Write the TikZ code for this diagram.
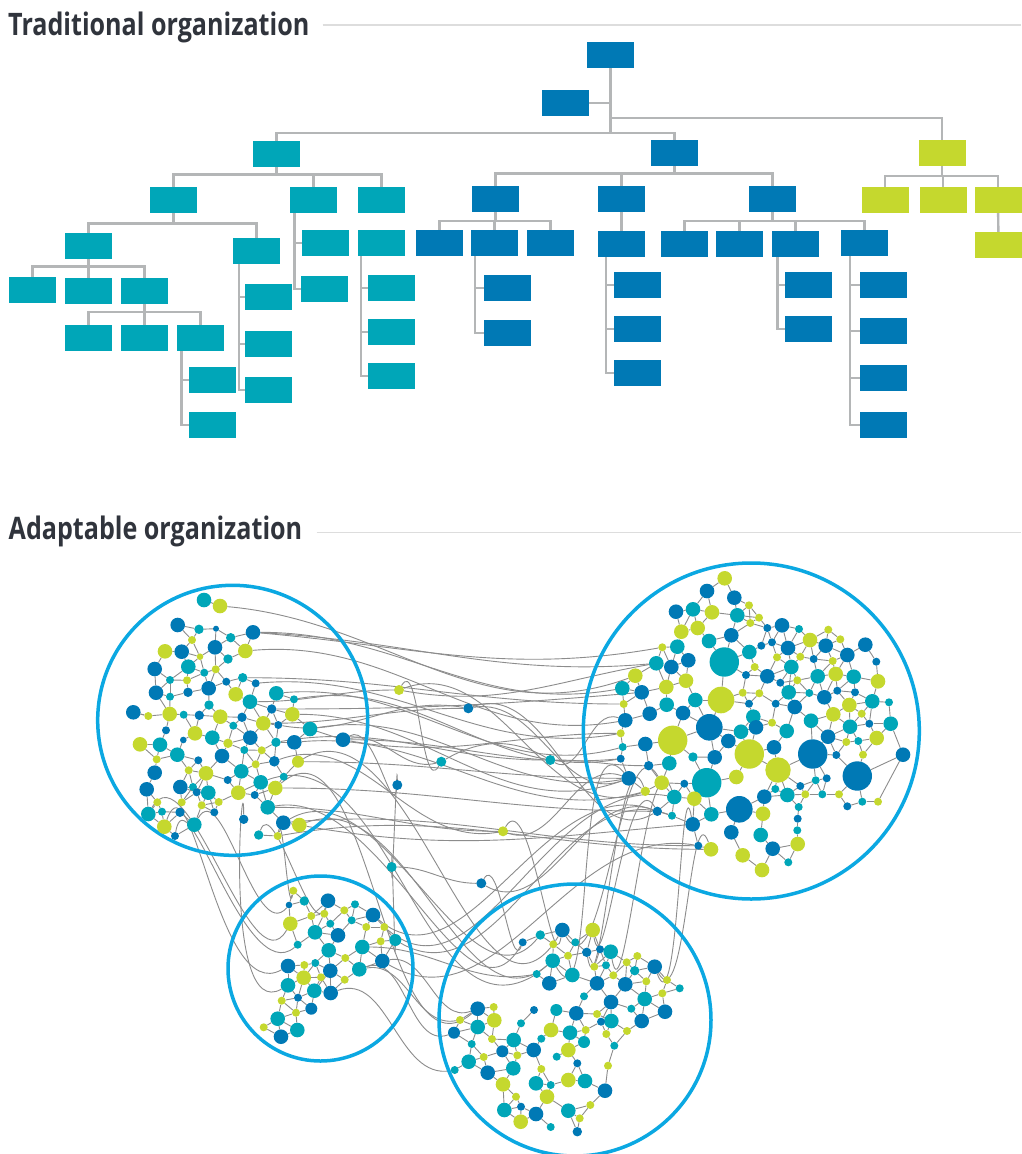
\documentclass[tikz,border=0pt]{standalone}
\usepackage{fontspec}
\usetikzlibrary{backgrounds}
\newfontfamily\titlefont[FakeStretch=0.81]{Open Sans}
\definecolor{cT}{HTML}{00A6B8}
\definecolor{cB}{HTML}{0079B5}
\definecolor{cG}{HTML}{C5D82E}
\definecolor{ringc}{HTML}{0BA8E2}
\definecolor{linkc}{HTML}{8C8C8C}
\definecolor{connc}{HTML}{B4B6B7}
\definecolor{rulec}{HTML}{DDDDDD}
\definecolor{titlec}{HTML}{30343C}
\tikzset{
  box/.style={rectangle, minimum width=47, minimum height=25.7, inner sep=0pt, draw=none},
  tbox/.style={box, fill=cT},
  bbox/.style={box, fill=cB},
  gbox/.style={box, fill=cG},
  conn/.style={draw=connc, line width=2.4pt},
  rulel/.style={draw=rulec, line width=1.2pt},
  title/.style={font=\titlefont\bfseries\fontsize{31}{36}\selectfont, text=titlec, inner sep=0pt},
  dot/.style={circle, inner sep=0pt, draw=none},
  link/.style={draw=linkc, line width=0.9pt},
  ring/.style={circle, draw=ringc, line width=3.5pt, inner sep=0pt}
}
\newdimen\lkdx \newdimen\lkdy
\def\lkmax{11.5}
\newcommand\linktest[3]{%
  \lkdx=\csname #1x#2\endcsname pt\relax
  \advance\lkdx by -\csname #1x#3\endcsname pt\relax
  \ifdim\lkdx<0pt \lkdx=-\lkdx\fi
  \ifdim\lkdx<40pt
    \lkdy=\csname #1y#2\endcsname pt\relax
    \advance\lkdy by -\csname #1y#3\endcsname pt\relax
    \ifdim\lkdy<0pt \lkdy=-\lkdy\fi
    \ifdim\lkdy<40pt
      \edef\lkra{\csname #1r#2\endcsname}%
      \edef\lkrb{\csname #1r#3\endcsname}%
      \pgfmathsetmacro\lkgap{veclen(\lkdx,\lkdy)-\lkra-\lkrb}%
      \ifdim\lkgap pt<\lkmax pt\relax
        \draw[link] (#1#2) -- (#1#3);%
      \fi
    \fi
  \fi}
\newcommand\alllinks[2]{%
  \foreach \i in {1,...,#2}{%
    \foreach \j in {1,...,#2}{%
      \ifnum\j>\i\relax \linktest{#1}{\i}{\j}\fi
    }}}
\newcommand\mkdots[2]{%
  \foreach \px/\py/\pr/\pk [count=\i] in #2 {%
    \node[dot, fill=c\pk, minimum size=2*\pr] (#1\i) at (\px,\py) {};
    \expandafter\xdef\csname #1x\i\endcsname{\px}%
    \expandafter\xdef\csname #1y\i\endcsname{\py}%
    \expandafter\xdef\csname #1r\i\endcsname{\pr}%
  }}
\def\clA{204/600/7.3/T, 220/606/7.3/G, 177.7/625/7.3/B, 199/629.3/4.7/T, 216/628.7/3/B, 253/632.3/7.3/B, 230.7/637.7/4.7/T, 192/640/4/G, 165/651.3/7.3/G, 181.7/651.7/7.3/B,
215/647.3/7.3/B, 245.3/651/7.3/G, 200/656.7/3.3/G, 228/659/4.7/T, 154.7/669/7.3/B, 188.3/666.7/7.3/T, 215.7/669.3/4/G, 204.3/672.7/4/T, 242.7/677.7/4.7/T, 170/680/4/T,
187/680.3/4/G, 226.3/681.7/4/B, 255.7/683.3/4/B, 156/692.7/7.3/B, 188/692.3/4.7/B, 208.7/688.3/7.3/B, 235.7/694.3/7.3/G, 276.3/693.3/7.3/T, 170/696.7/4/T, 250/701.7/7.3/T,
294/699.3/4/T, 209/705/4.7/T, 271.7/709/4.7/B, 133.3/712.3/7.3/B, 148.3/716/4/G, 169.7/714/7.3/G, 183.7/714.7/4/T, 199.3/715.3/4.7/B, 220.3/716.7/7.3/G, 242/717.3/4.7/B,
263.3/723.3/7.3/G, 292.3/714.3/7.3/G, 233.3/725.7/4/T, 278.3/725/4/B, 310/729/7.3/T, 343/739.7/7.3/B, 166/730.3/4/B, 195/733.3/7.3/G, 212.3/737.7/7.3/T, 250.3/737.7/7.3/B,
140/744.3/7.3/G, 160/744.7/7.3/T, 183.3/740/3.3/B, 228/743.3/4.7/G, 276/742.3/4.7/T, 294.3/742.3/7.3/B, 244.3/750/4/T, 261.7/750.3/4/G, 177.3/754.7/7.3/T, 222/756/7.3/B,
156.7/759.3/4/G, 198.3/760.3/4/B, 274.3/761.3/5.3/B, 298/761.7/6/G, 255.7/764.3/4/G, 154.7/772.7/7.3/B, 188.7/770.3/4/G, 206/773.3/7.3/G, 241.3/771.3/7.3/T, 283.7/776.7/4/T,
227.7/780/4/B, 146.7/789.3/7.3/B, 180.3/787/7.3/B, 193/787/4/T, 260.7/782.3/7.3/T, 275.3/788/7.3/G, 196.7/792.3/4/B, 208.3/792.7/7.3/T, 238.3/792.7/7.3/G, 254.7/795/4/B,
157.3/802.3/4/G, 181.7/802.3/4/G, 201.7/805.3/4/G, 218.7/802/4/G, 148.3/814/7.3/T, 162/811.7/4/T, 180/812.3/4.7/B, 214.3/812.3/4/B, 267.7/807.3/7.3/T, 164.3/826.7/7.3/G,
194.3/824.7/7.3/T, 243.7/819.3/4.7/B, 283.3/822.7/7.3/B, 299.3/825/7.3/G, 175/836/4/B, 258.7/835/4.7/T, 277.7/836/4/G}
\def\clB{724.7/578.3/7.3/G, 707/591/7.3/B, 734.3/597.7/7.3/B, 749/605.3/4/G, 676/611.7/7.3/B, 693/609.3/7.3/T, 712/612.3/7.3/G, 737.3/615.3/7.3/T, 759/617.7/4/G, 750.3/623/4/G,
767.3/628/4/B, 782/625.3/7.3/B, 799/629/4/T, 828.3/629.7/4/G, 681.3/631.7/7.3/G, 697.7/628/7.3/G, 731.3/635.3/7.3/B, 709/641/7.3/T, 810/640/7.3/G, 825.7/645.7/7.3/B,
840.3/639.3/4/G, 865.3/644.7/7.3/B, 662.3/647.3/4/G, 677.3/646.7/7.3/T, 761.3/645.7/4/B, 772/642.3/4/B, 788/648/7.3/B, 749.3/652/7.3/T, 724.3/662/14.7/T, 777/657.3/4/G,
800.3/656.7/4/G, 813.7/659/4/B, 832.7/661/4/G, 847.3/655/7.3/B, 876.3/661.7/4/B, 656.3/663.3/7.3/T, 671.3/667/7.3/B, 688.3/660.3/7.3/B, 754.7/667/4/G, 791.3/667/7.3/T,
635.3/675.7/7.3/G, 686/680.7/7.3/G, 746/675/4/B, 767.3/676.3/7.3/B, 780.3/682.7/4/B, 817.7/676.3/7.3/T, 835.7/674/7.3/G, 853.7/676.7/7.3/T, 797.3/680.3/4/G, 878/681.3/7.3/G,
622.3/688.3/7.3/T, 641.7/692.3/7.3/B, 666.3/687/7.3/G, 721/700/13.3/G, 742.7/692.7/4/G, 759.3/693.3/4/G, 788.7/692.3/7.3/T, 809.3/693/4/T, 824.3/697.3/7.3/B, 837.3/690.7/4/B,
855/692.3/4/B, 872.3/701.3/7.3/T, 623.7/704/4/G, 666.7/704.7/7.3/T, 695.3/700/7.3/T, 749/703.7/4/B, 775.7/703.7/4/B, 794.7/707/7.3/B, 849.3/705/7.3/G, 889/702.3/4/T,
625.3/720.3/7.3/B, 649.7/713.7/7.3/B, 683/713/7.3/B, 709.3/727.3/13.3/B, 753.3/716.7/7.3/T, 756/727.3/7.3/B, 811/720.7/7.3/T, 833.3/714.3/7.3/G, 861.7/713.7/4/G, 869.3/723.7/4/B,
890.7/723.7/7.3/T, 620.7/733.3/4/G, 672.7/740.3/14.7/G, 741/731.7/7.3/T, 772/722.7/4/G, 786.7/731/7.3/T, 828/736.7/7.3/B, 850/726.7/7.3/T, 876.7/738/7.3/G, 622.7/747/4/T,
645.3/744/7.3/B, 728.3/741/7.3/B, 749.3/754/14.7/G, 774/747.3/7.3/B, 812.7/754/14.7/B, 846.3/742/4/G, 858.3/741/4/T, 620.7/758.7/4/B, 648.7/765.7/4.7/B, 669.3/763.3/7.3/T,
693/757/4.7/T, 714.7/757.3/7.3/B, 778/770/12.7/G, 836.3/755/4/B, 863/754.7/4/G, 903/754.7/7.3/B, 628.7/778.3/7.3/B, 661.7/782.7/7.3/G, 684.3/783.7/4/B, 706.7/782.7/14.7/T,
736.3/777/7.3/G, 857.3/776/14.7/B, 826.7/778.3/4/B, 815.7/780.3/4/T, 800.3/786/4/B, 775.3/789/4/T, 787.3/795/7.3/T, 764.3/796.7/7.3/B, 645.3/791.3/4.7/G, 674.3/797/7.3/T,
694.3/798.7/7.3/G, 805.3/794.3/4/G, 822.3/794.3/4/T, 839/794.3/4/G, 847.3/806.3/4/B, 862.3/801.7/4/T, 878/801.7/4/G, 657.3/811.3/4.7/B, 672/815.7/4/T, 711.3/814.3/7.3/T,
739.3/809.3/13.3/B, 763/813.7/7.3/G, 798.7/807/4/T, 797.7/818.7/4/B, 797.3/830.3/4/T, 692.7/824.3/7.3/B, 731.3/832.3/7.3/B, 760.7/835/7.3/T, 797.7/844/7.3/G, 698.3/845.7/4/B,
711/849.3/7.3/G, 772.7/848.7/7.3/B, 742.7/855.3/7.3/G, 788.3/862.3/4/T, 762/870/7.3/G}
\def\clC{293.3/890.7/4/G, 289/905/3.3/B, 304.3/901/4.7/T, 328/900.7/7.3/B, 355/904.3/4/T, 344.3/910.3/4/G, 324.3/913.7/4/G, 311.3/916/4/G, 373/915/7.3/B, 290.3/923.7/7.3/G,
351.7/920.3/4/T, 330.3/923.7/4/T, 366.3/927/4/G, 384.3/927/4/G, 315/932.3/7.3/T, 338/935.3/7.3/B, 395.3/940/6/T, 380.7/941.3/4/G, 297.7/944.7/4/T, 328.7/950.3/7.3/T,
362.3/947/7.3/T, 345.3/958/4/G, 382.3/961/7.3/B, 288/966/7.3/B, 304.3/965/4/G, 315.3/963/4/T, 330.3/970.7/7.3/B, 359.3/969.3/7.3/T, 303.7/977.7/7.3/G, 321/977.3/4/G,
288/985.3/7.3/T, 344.7/979.7/4/G, 314.3/990.7/7.3/T, 330.7/993/7.3/B, 298/997.7/4/B, 281.7/1000.7/4/G, 311.3/1008.7/6/B, 296/1012.7/4/G, 277.7/1018.7/7.3/T, 263.7/1027.3/4/G,
297.3/1030/7.3/T, 281/1036.7/7.3/B}
\def\clD{562.3/930/7.3/B, 592.7/930/7.3/G, 540.3/935/4.7/T, 522.7/942.3/4/B, 553.3/944.3/4/G, 575.3/942.3/4/T, 586.7/952.3/4.7/B, 600/949.3/4/B, 610.7/951.7/7.3/T, 637.3/956/4/G,
568/955.7/4/G, 552.7/960.7/7.3/T, 606/965.3/4/T, 594.3/966.7/4/G, 626.7/962.3/4/G, 654.7/966.7/7.3/B, 634.7/970.7/4.7/T, 536.7/974/4/T, 572.3/975/7.3/T, 613.3/975.3/4/G,
549.3/983.3/7.3/B, 597/983.3/7.3/B, 625.3/984.3/7.3/B, 646.3/981.3/4/G, 667/980/4/G, 679.7/988.3/4/T, 662.3/993.3/4/G, 584/996.3/4/T, 611/1002/7.3/B, 644.7/999/7.3/T,
534/1010/4/B, 556.3/1010/6/T, 576.3/1013.3/7.3/B, 631.3/1008.7/4/T, 665/1011.7/7.3/B, 477.7/1008.7/7.3/B, 493.7/1007/4/G, 597/1014/4/G, 611.3/1021/7.3/T, 641.7/1021/7.3/B,
601/1021.7/4/B, 460/1020/4/G, 494.3/1020.3/7.3/G, 477.7/1027/7.3/T, 521/1023.3/4/T, 551/1030/7.3/G, 570/1032.7/7.3/T, 585.7/1030/4/G, 627/1031/4/G, 606.3/1034/4/G,
454/1032.7/6/B, 492/1039/4/G, 513.7/1040/7.3/T, 541.3/1038.7/4/T, 584/1042/6/T, 614.3/1045.7/4/T, 471.7/1044/4/T, 502.3/1051.3/6/B, 533.7/1050/7.3/B, 568.3/1050/7.3/G,
483.7/1057/4/G, 517.3/1055.3/4/G, 556.7/1056.7/4/T, 577.3/1063.3/4/B, 608/1065.7/4/G, 468.7/1061.7/7.3/T, 454.7/1070/4/T, 487.7/1072.7/7.3/B, 513.3/1068.3/7.3/T, 541.3/1069/4/G,
568.3/1080/7.3/G, 585/1081/7.3/T, 605/1090.7/7.3/B, 503/1084.3/7.3/G, 536/1083.3/7.3/T, 550.7/1085/4/T, 516/1096.7/4/G, 547/1096.7/7.3/G, 590.3/1105/4/G, 504.3/1110/7.3/T,
521/1106.7/4/B, 536/1114/7.3/B, 568.3/1110.7/7.3/T, 579.7/1118.3/4/G, 520.7/1121.7/7.3/G, 550.7/1127/4/T, 577.3/1131.7/4.7/B}
\def\clM{399/690/5/G, 468.3/708.3/5/B, 441.3/761.7/5/T, 550.3/760/5/T, 397.3/785/5/B, 503/831.3/5/G, 391.7/867/5/T, 481.3/883.3/5/B}
\begin{document}
\begin{tikzpicture}[x=1pt,y=-1pt]
\begin{pgfonlayer}{background}
\fill[white] (0,0) rectangle (1021,1154);
\end{pgfonlayer}
\useasboundingbox (0,0) rectangle (1021,1154);
% ---------- titles ----------
\node[title, anchor=base west] (h1) at (8,35.5) {Traditional organization};
\node[title, anchor=base west] (h2) at (8.5,539.5) {Adaptable organization};
\draw[rulel] (322.7,25) -- (1021,25);
\draw[rulel] (316.7,532.7) -- (1021,532.7);
% ---------- traditional tree ----------
\node[bbox] (r) at (610.5,55) {};
\node[bbox] (asst) at (565.5,103) {};
\node[tbox] (tL1) at (276.5,154) {};
\node[bbox] (bL1) at (674.5,153) {};
\node[gbox] (gL1) at (942,153) {};
\node[tbox] (t21) at (173.3,200) {};
\node[tbox] (t22) at (313.3,200) {};
\node[tbox] (t23) at (381.5,200) {};
\node[bbox] (b21) at (495.5,199) {};
\node[bbox] (b22) at (621.5,199) {};
\node[bbox] (b23) at (772.5,199) {};
\node[gbox] (g21) at (885,200) {};
\node[gbox] (g22) at (943,200) {};
\node[gbox] (g23) at (998,200) {};
\node[gbox] (g31) at (998.5,245) {};
\node[tbox] (t23b) at (381.5,243) {};
\node[tbox] (t231) at (391.5,288) {};
\node[tbox] (t232) at (391.5,332) {};
\node[tbox] (t233) at (391.5,376) {};
\node[tbox] (t221) at (325.5,243) {};
\node[tbox] (t222) at (324.5,289) {};
\node[tbox] (t211) at (88.5,246) {};
\node[tbox] (t212) at (256.5,251) {};
\node[tbox] (t2111) at (32.5,290) {};
\node[tbox] (t2112) at (88.5,291) {};
\node[tbox] (t2113) at (144.5,291) {};
\node[tbox] (x1) at (88.5,338) {};
\node[tbox] (x2) at (144.5,338) {};
\node[tbox] (x3) at (200.5,338) {};
\node[tbox] (y1) at (212.5,380) {};
\node[tbox] (y2) at (212.5,425) {};
\node[tbox] (z1) at (268.5,297) {};
\node[tbox] (z2) at (268.5,344) {};
\node[tbox] (z3) at (268.5,390) {};
\node[bbox] (b211) at (439.5,243) {};
\node[bbox] (b212) at (494.5,243) {};
\node[bbox] (b213) at (550.5,243) {};
\node[bbox] (b2121) at (507.5,288) {};
\node[bbox] (b2122) at (507.5,333) {};
\node[bbox] (b22b) at (621.5,244) {};
\node[bbox] (b221) at (637.5,285) {};
\node[bbox] (b222) at (637.5,329) {};
\node[bbox] (b223) at (637.5,373) {};
\node[bbox] (b231) at (684.5,244) {};
\node[bbox] (b232) at (739.5,244) {};
\node[bbox] (b233) at (795.5,244) {};
\node[bbox] (b234) at (864.5,243) {};
\node[bbox] (b2331) at (808.5,285) {};
\node[bbox] (b2332) at (808.5,329) {};
\node[bbox] (b2341) at (883.5,285) {};
\node[bbox] (b2342) at (883.5,331) {};
\node[bbox] (b2343) at (883.5,378) {};
\node[bbox] (b2344) at (883.5,425) {};
\begin{pgfonlayer}{background}
\draw[conn] (r.south) -- ++(0,64.85) coordinate (j0) (j0) -| (tL1.north) (j0) -| (bL1.north);
\draw[conn] (r.south) ++(0,49.85) -| (gL1.north);
\draw[conn] (asst.east) -- (asst.east -| r.south);
\draw[conn] (tL1.south) -- ++(0,7.45) coordinate (j1) (j1) -| (t21.north) (j1) -| (t22.north) (j1) -| (t23.north);
\draw[conn] (bL1.south) -- ++(0,7.45) coordinate (j2) (j2) -| (b21.north) (j2) -| (b22.north) (j2) -| (b23.north);
\draw[conn] (gL1.south) -- ++(0,10) coordinate (j3) (j3) -| (g21.north) (j3) -| (g22.north) (j3) -| (g23.north);
\draw[conn] (g23) -- (g31);
\draw[conn] (t21.south) -- ++(0,10.45) coordinate (j4) (j4) -| (t211.north) (j4) -| (t212.north);
\draw[conn] (t211.south) -- ++(0,7.45) coordinate (j5) (j5) -| (t2111.north) (j5) -| (t2112.north) (j5) -| (t2113.north);
\draw[conn] (t2113.south) -- ++(0,7.85) coordinate (j6) (j6) -| (x1.north) (j6) -| (x2.north) (j6) -| (x3.north);
\draw[conn] (b21.south) -- ++(0,8.85) coordinate (j7) (j7) -| (b211.north) (j7) -| (b212.north) (j7) -| (b213.north);
\draw[conn] (b23.south) -- ++(0,8.85) coordinate (j8) (j8) -| (b231.north) (j8) -| (b232.north) (j8) -| (b233.north) (j8) -| (b234.north);
\draw[conn] (b22) -- (b22b);
\draw[conn] ([xshift=5]t22.south west) |- (t221.west) ([xshift=5]t22.south west) |- (t222.west);
\draw[conn] ([xshift=3]t23b.south west) |- (t231.west) ([xshift=3]t23b.south west) |- (t232.west) ([xshift=3]t23b.south west) |- (t233.west);
\draw[conn] ([xshift=6.3]t212.south west) |- (z1.west) ([xshift=6.3]t212.south west) |- (z2.west) ([xshift=6.3]t212.south west) |- (z3.west);
\draw[conn] ([xshift=4.7]x3.south west) |- (y1.west) ([xshift=4.7]x3.south west) |- (y2.west);
\draw[conn] ([xshift=4]b212.south west) |- (b2121.west) ([xshift=4]b212.south west) |- (b2122.west);
\draw[conn] ([xshift=8]b22b.south west) |- (b221.west) ([xshift=8]b22b.south west) |- (b222.west) ([xshift=8]b22b.south west) |- (b223.west);
\draw[conn] ([xshift=5.7]b233.south west) |- (b2331.west) ([xshift=5.7]b233.south west) |- (b2332.west);
\draw[conn] ([xshift=9]b234.south west) |- (b2341.west) ([xshift=9]b234.south west) |- (b2342.west) ([xshift=9]b234.south west) |- (b2343.west) ([xshift=9]b234.south west) |- (b2344.west);
\end{pgfonlayer}
% ---------- adaptable network ----------
\node[ring, minimum size=270] (R1) at (232.7,720.3) {};
\node[ring, minimum size=336] (R2) at (751.3,731) {};
\node[ring, minimum size=185] (R3) at (320.5,968.5) {};
\node[ring, minimum size=272] (R4) at (575,1020) {};
\mkdots{A}{\clA}
\mkdots{B}{\clB}
\mkdots{C}{\clC}
\mkdots{D}{\clD}
\mkdots{M}{\clM}
\begin{pgfonlayer}{background}
\alllinks{A}{97}
\alllinks{B}{145}
\alllinks{C}{42}
\alllinks{D}{87}
\foreach \p/\q in {B106/B112, B106/B81, B106/B127, D65/D56, D65/D73, A34/A35, A46/A45}
  {\draw[link] (\p) -- (\q);}
\foreach \p/\q/\o/\n in {A2/B41/-5/-160, A6/B51/0/-170, A6/B36/-3/-175, A12/B71/5/-170, A19/B63/0/180,
  A23/B82/5/-170, A28/B90/5/-165, A31/B98/10/-170, A42/B107/0/-160, A45/B107/10/-170,
  A46/B82/-10/180, A46/B98/0/-175, A56/B119/5/-165, A64/B107/0/180, A76/B128/0/180,
  A93/B140/5/180, A94/B136/-10/-175, A30/M1/0/180, M1/B36/-10/-170, M1/M3/60/-120,
  M1/B119/20/-160, A41/M2/0/180, M2/B107/10/-160, M2/B128/20/-150, A44/M2/-10/170,
  A46/M3/10/-165, M3/M4/30/150, M4/B71/-30/160, A55/M4/10/180, M4/B99/0/180,
  A46/M5/30/-100, M5/M7/90/-90, M7/M8/0/180, M7/C17/90/-90, M8/B128/-30/160,
  M8/D4/60/-110, A89/M6/0/180, M6/B107/-20/160, M6/D1/60/-100, A63/M6/20/-170,
  A85/C10/60/-120, A90/C24/70/-150, A91/C2/60/-130, A95/C19/80/-140, A96/C4/70/-110,
  A97/C1/80/-100, A92/C31/90/-150, A93/D3/30/-130, A94/D12/20/-140, A89/D4/10/-120,
  A76/D36/40/-140, A75/D18/20/-150, C9/B128/-40/160, C17/B129/-30/160, C14/B120/-40/170,
  C23/D36/10/-160, C28/D51/20/-160, C34/D67/20/-170, C28/D42/10/-170, B128/D2/120/-80,
  B120/D9/110/-80, B136/D16/100/-70, B108/D1/120/-60, B119/D7/110/-80, B141/D16/110/-60,
  B107/D12/130/-60, A97/B141/10/180, C21/D18/0/-170, C23/B140/-30/170, A64/D5/30/-130,
  A33/B52/0/-175, A6/B23/-5/-170}
  {\draw[link] (\p) to[out=\o,in=\n] (\q);}
\end{pgfonlayer}
\end{tikzpicture}
\end{document}
